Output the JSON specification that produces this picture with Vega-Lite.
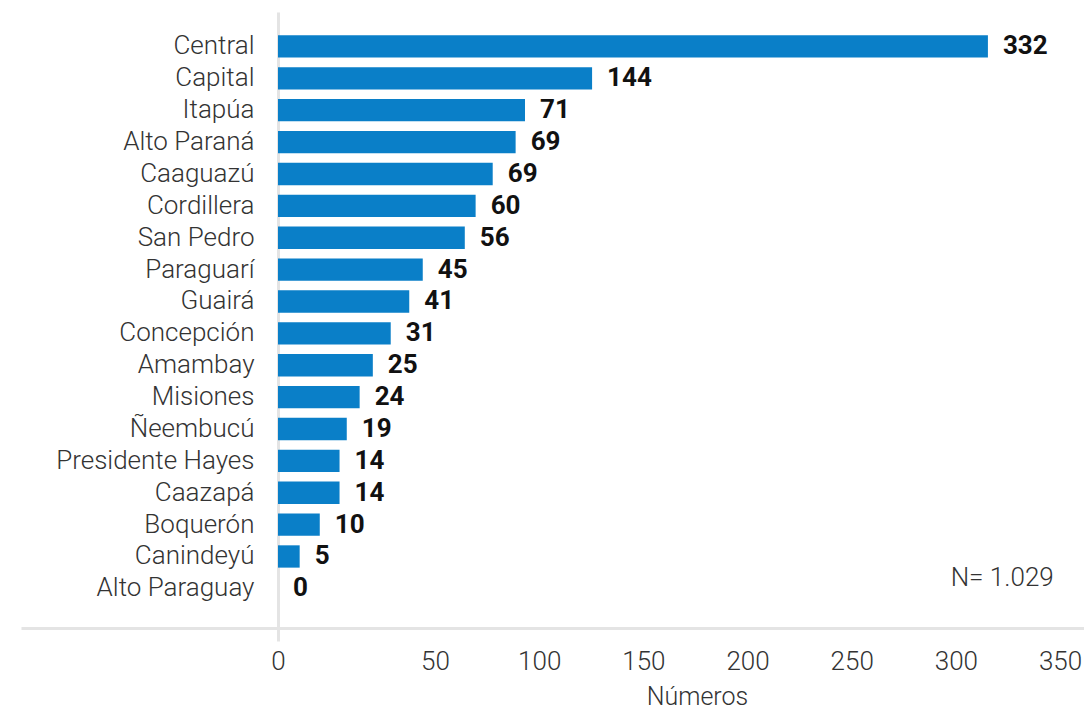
{
  "$schema": "https://vega.github.io/schema/vega-lite/v6.json",
  "width": 806,
  "height": 616,
  "autosize": {"type": "none"},
  "padding": {"left": 278, "top": 12, "right": 0, "bottom": 81},
  "background": "white",
  "config": {"view": {"stroke": null}, "font": "Roboto"},
  "data": {
    "values": [
      {"departamento": "Central", "valor": 332, "largo": 315.4},
      {"departamento": "Capital", "valor": 144, "largo": 125.4},
      {"departamento": "Itapúa", "valor": 71, "largo": 93.2},
      {"departamento": "Alto Paraná", "valor": 69, "largo": 88.7},
      {"departamento": "Caaguazú", "valor": 69, "largo": 77.7},
      {"departamento": "Cordillera", "valor": 60, "largo": 69.5},
      {"departamento": "San Pedro", "valor": 56, "largo": 64.3},
      {"departamento": "Paraguarí", "valor": 45, "largo": 46.1},
      {"departamento": "Guairá", "valor": 41, "largo": 41.8},
      {"departamento": "Concepción", "valor": 31, "largo": 35.9},
      {"departamento": "Amambay", "valor": 25, "largo": 30.2},
      {"departamento": "Misiones", "valor": 24, "largo": 26.0},
      {"departamento": "Ñeembucú", "valor": 19, "largo": 21.9},
      {"departamento": "Presidente Hayes", "valor": 14, "largo": 19.6},
      {"departamento": "Caazapá", "valor": 14, "largo": 19.6},
      {"departamento": "Boquerón", "valor": 10, "largo": 13.3},
      {"departamento": "Canindeyú", "valor": 5, "largo": 6.9},
      {"departamento": "Alto Paraguay", "valor": 0, "largo": 0}
    ]
  },
  "layer": [
    {
      "mark": {"type": "bar", "color": "#0A7FC8"},
      "encoding": {
        "y": {
          "field": "departamento",
          "type": "nominal",
          "sort": null,
          "scale": {"paddingInner": 0.3, "paddingOuter": 0.8125, "align": 0.45},
          "axis": {
            "title": null,
            "ticks": false,
            "labelPadding": 24,
            "labelLimit": 400,
            "labelFontSize": 26,
            "labelFontWeight": 300,
            "labelColor": "#333333",
            "labelFont": "Roboto",
            "domainColor": "#e4e4e4",
            "domainWidth": 3,
            "grid": false
          }
        },
        "x": {
          "field": "largo",
          "type": "quantitative",
          "scale": {
            "domain": [-82, 0, 50, 350, 361.5],
            "range": [-257, 0, 157, 782, 806],
            "nice": false
          },
          "axis": {
            "values": [0, 50, 100, 150, 200, 250, 300, 350],
            "title": "Números",
            "grid": false,
            "domainColor": "#e4e4e4",
            "domainWidth": 3,
            "tickSize": 13,
            "tickWidth": 3,
            "tickColor": {"condition": {"test": "datum.value === 0", "value": "#e4e4e4"}, "value": "transparent"},
            "labelPadding": 7,
            "labelFontSize": 26,
            "labelFontWeight": 300,
            "labelColor": "#333333",
            "labelFont": "Roboto",
            "labelFlush": false,
            "labelOverlap": false,
            "titleFont": "Roboto",
            "titleFontSize": 25,
            "titleFontWeight": 300,
            "titleColor": "#333333",
            "titlePadding": 10,
            "titleX": 419
          }
        }
      }
    },
    {
      "mark": {"type": "text", "align": "left", "baseline": "middle", "dx": 15, "fontSize": 26, "fontWeight": "bold", "color": "#111111", "font": "Roboto"},
      "encoding": {
        "y": {"field": "departamento", "type": "nominal", "sort": null},
        "x": {"field": "largo", "type": "quantitative"},
        "text": {"field": "valor", "type": "quantitative"}
      }
    },
    {
      "data": {"values": [{"nota": "N= 1.029"}]},
      "mark": {"type": "text", "align": "right", "baseline": "middle", "dy": -10, "fontSize": 26, "fontWeight": 300, "color": "#333333", "font": "Roboto"},
      "encoding": {
        "y": {"datum": "Alto Paraguay", "type": "nominal"},
        "x": {"datum": 347, "type": "quantitative"},
        "text": {"field": "nota", "type": "nominal"}
      }
    }
  ]
}
